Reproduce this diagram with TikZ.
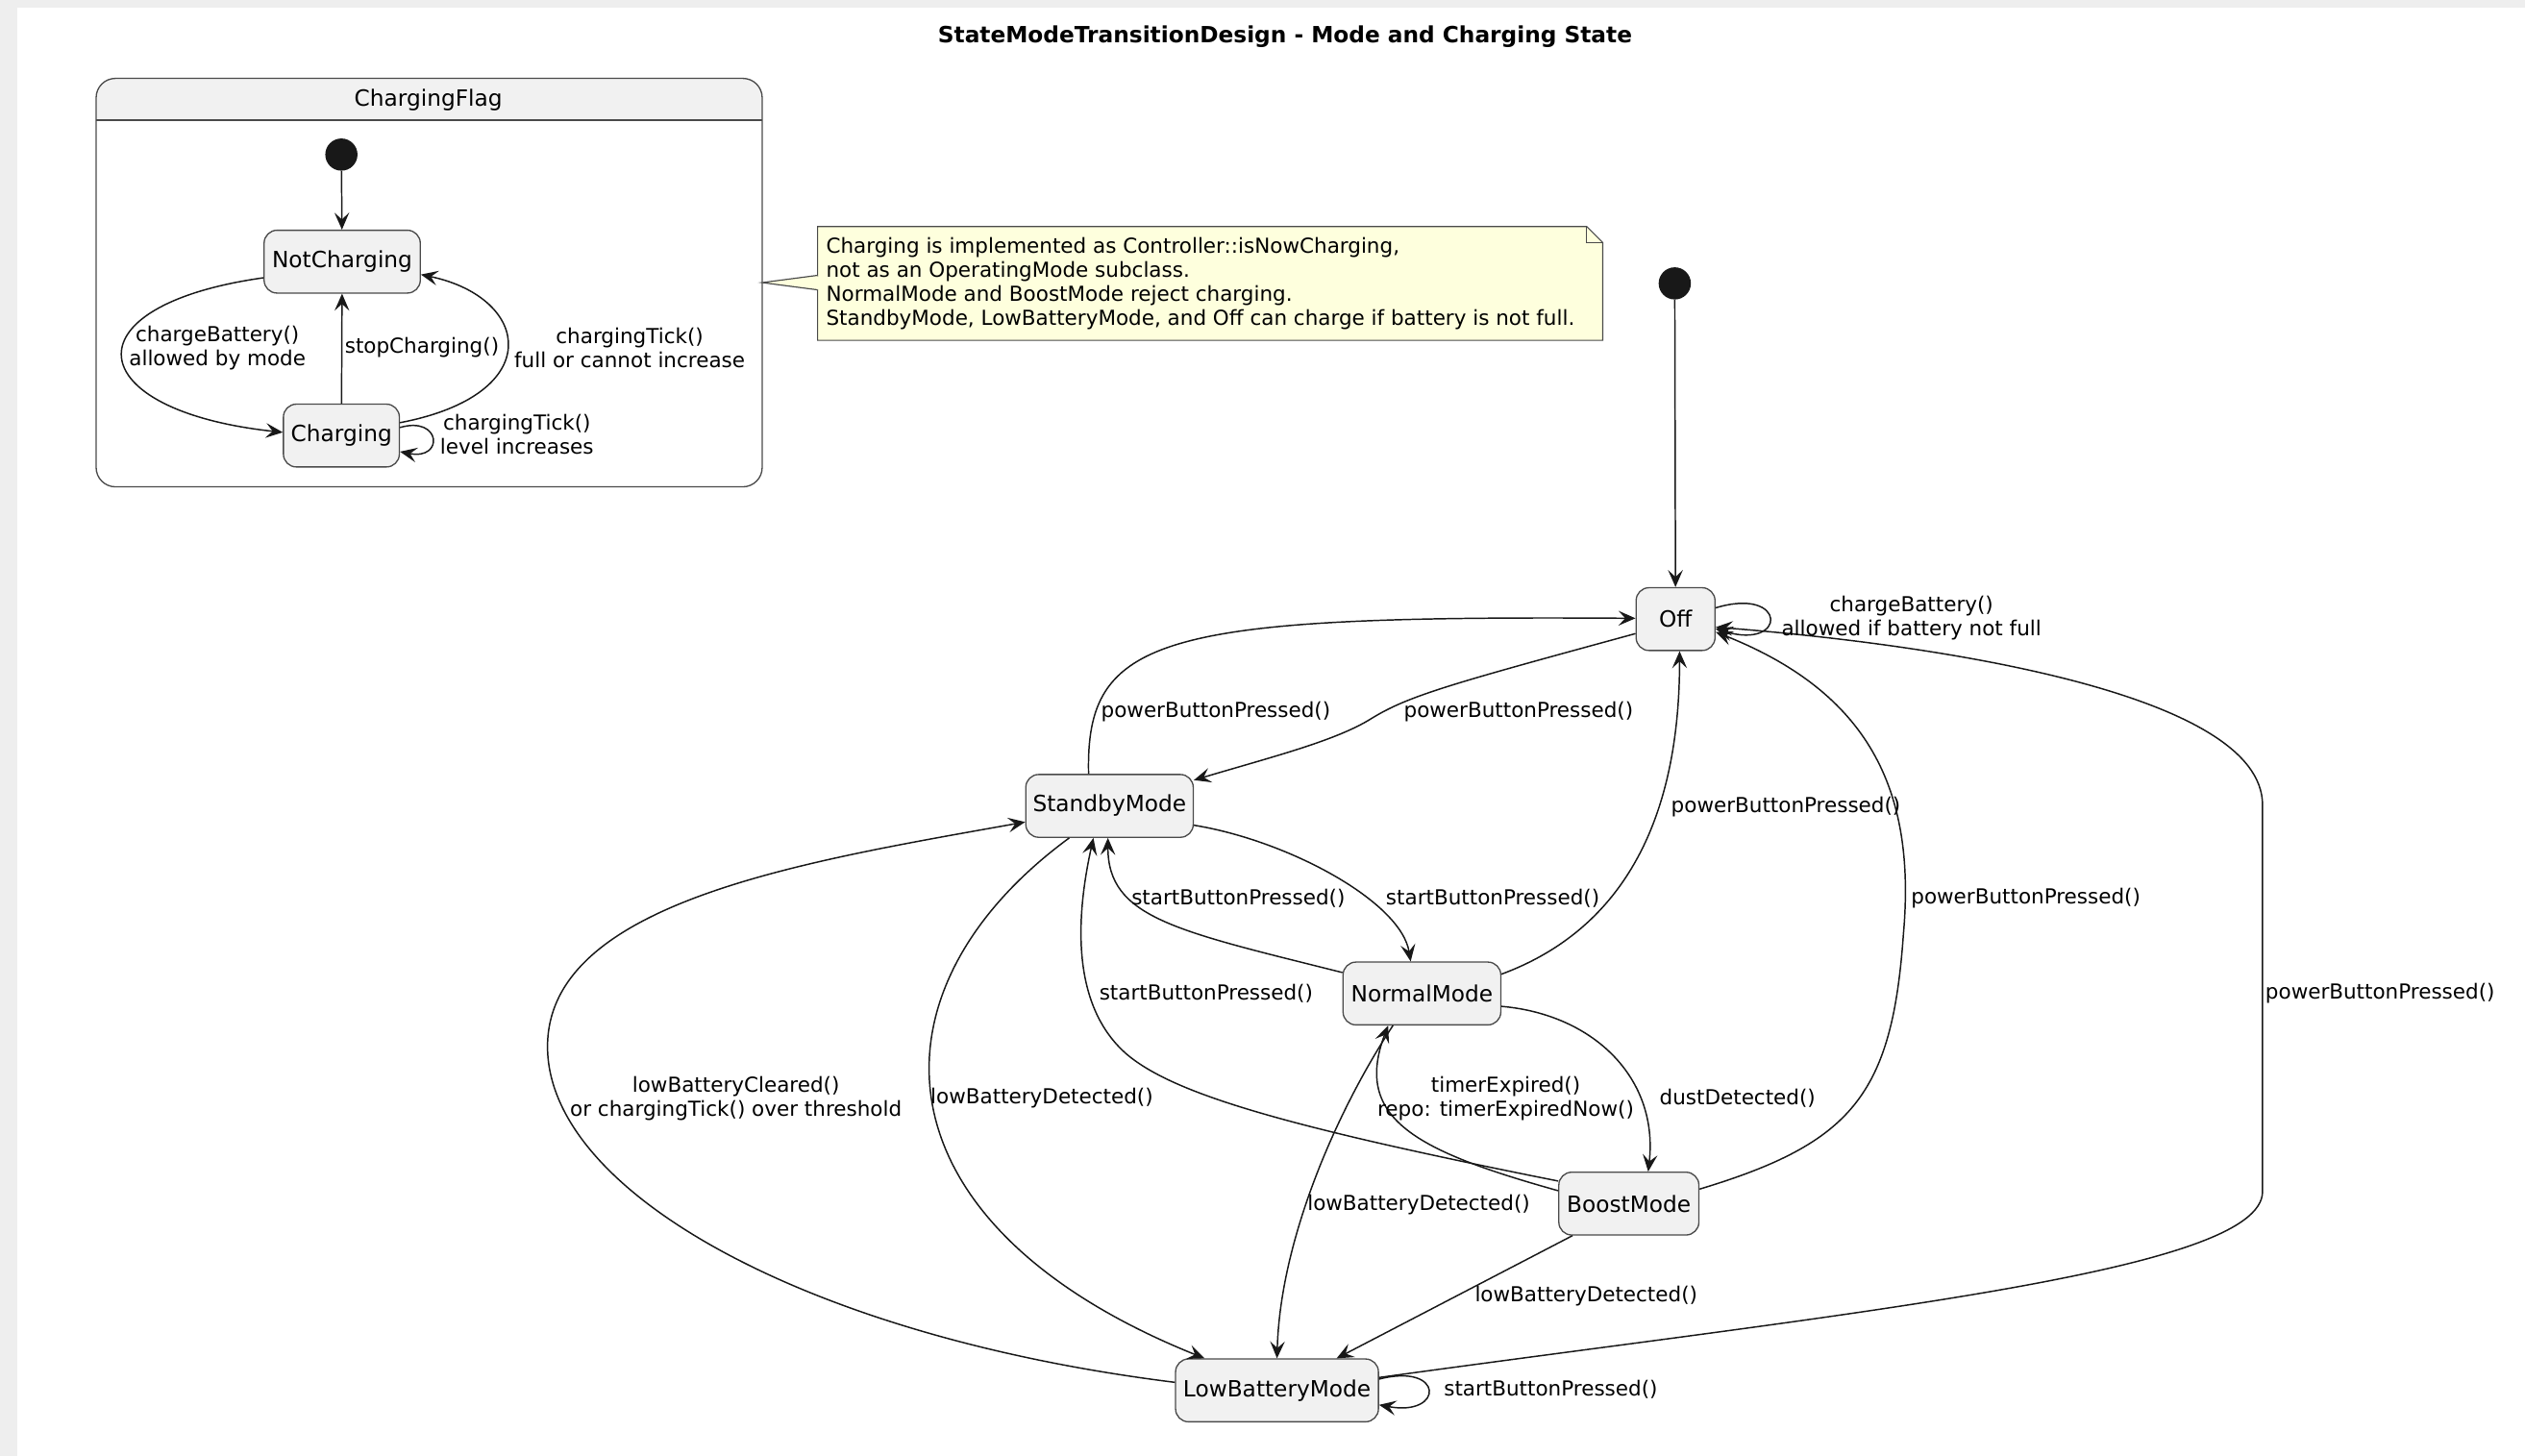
\documentclass[tikz,border=0pt]{standalone}
\usepackage{fontspec}
\setmainfont{DejaVu Sans}
\usetikzlibrary{arrows.meta,calc}
\definecolor{linec}{HTML}{181818}
\definecolor{boxc}{HTML}{4A4A4A}
\definecolor{statefill}{HTML}{F1F1F1}
\definecolor{notefill}{HTML}{FEFFDD}
\definecolor{bggray}{HTML}{EEEEEE}
\newcommand\lblfont{\fontsize{7.3pt}{8.5pt}\selectfont}
\newcommand\stfont{\fontsize{7.9pt}{9pt}\selectfont}
\newcommand\ttlfont{\fontsize{7.9pt}{9pt}\selectfont\bfseries}
\begin{document}
\begin{tikzpicture}[x=0.02cm,y=-0.02cm,
  every node/.style={font=\lblfont, inner sep=0pt},
  st/.style={rectangle, rounded corners=0.16cm, draw=boxc, fill=statefill, line width=0.45pt, minimum height=0.78cm, font=\stfont},
  tr/.style={draw=linec, line width=0.5pt, -{Stealth[length=6pt,width=5.2pt,inset=2.4pt]}},
  lbl/.style={align=center, text=black},
  initdot/.style={circle, fill=linec, minimum size=0.4cm, inner sep=0pt}]
\useasboundingbox (0,0) rectangle (1568,904);
\fill[bggray] (0,0) rectangle (1568,904);
\fill[white] (11,5) rectangle (1568,904);

\node[font=\ttlfont] (title) at (798,22.5) {StateModeTransitionDesign - Mode and Charging State};

% composite
\path (266.5,175.5) node[minimum width=8.26cm, minimum height=5.06cm, fill=white] (CF) {};
\begin{scope}
\clip[rounded corners=0.24cm] (CF.north west) rectangle (CF.south east);
\fill[statefill] (CF.north west) rectangle ($(CF.north east)+(0,26)$);
\end{scope}
\draw[boxc, line width=0.45pt, rounded corners=0.24cm] (CF.north west) rectangle (CF.south east);
\draw[boxc, line width=0.45pt] ($(CF.north west)+(0,26)$) -- ($(CF.north east)+(0,26)$);
\node[font=\stfont] (CFt) at (266,62) {ChargingFlag};

\node[initdot] (i1) at (212,96) {};
\node[st, minimum width=1.94cm] (NC) at (212.5,162.5) {NotCharging};
\node[st, minimum width=1.44cm] (Ch) at (212,270.5) {Charging};

\draw[tr] (i1) -- (NC);
\draw[tr] ($(NC.west)+(0,10)$) .. controls (40,190) and (50,255) .. ($(Ch.west)+(0,-2)$);
\draw[tr] (Ch) -- (NC);
\draw[tr] ($(Ch.east)+(0,-8)$) .. controls (340,245) and (330,185) .. ($(NC.east)+(0,8)$);
\draw[tr] ($(Ch.east)+(0,-5)$) .. controls (274,258) and (276,286) .. ($(Ch.east)+(0,10)$);

\node[lbl] (l1) at (135,216) {chargeBattery()\\allowed by mode};
\node[lbl] (l2) at (262,216) {stopCharging()};
\node[lbl] (l3) at (391,216) {chargingTick()\\full or cannot increase};
\node[lbl] (l4) at (321,270) {chargingTick()\\level increases};

% note
\node[minimum width=9.74cm, minimum height=1.4cm] (note) at (751.5,176) {};
\filldraw[fill=notefill, draw=boxc, line width=0.4pt] (note.north west) -- ($(note.north east)+(-10,0)$) -- ($(note.north east)+(0,10)$) -- (note.south east) -- (note.south west) -- cycle;
\draw[boxc, line width=0.4pt] ($(note.north east)+(-10,0)$) -- ($(note.north east)+(-10,10)$) -- ($(note.north east)+(0,10)$);
\filldraw[fill=notefill, draw=boxc, line width=0.4pt] ($(note.west)+(0,-5)$) -- (CF.east) -- ($(note.west)+(0,4)$);
\fill[notefill] ($(note.west)+(-0.5,-4.4)$) rectangle ($(note.west)+(0.6,3.4)$);
\node[align=left, anchor=west] (notetxt) at ($(note.west)+(5,0)$) {Charging is implemented as Controller::isNowCharging,\\not as an OperatingMode subclass.\\NormalMode and BoostMode reject charging.\\StandbyMode, LowBatteryMode, and Off can charge if battery is not full.};

% main states
\node[initdot] (i2) at (1040,176) {};
\node[st, minimum width=0.98cm] (Off) at (1040.5,384.5) {Off};
\node[st, minimum width=2.08cm] (SB) at (689,500.5) {StandbyMode};
\node[st, minimum width=1.96cm] (NM) at (883,617) {NormalMode};
\node[st, minimum width=1.74cm] (BM) at (1011.5,747.5) {BoostMode};
\node[st, minimum width=2.52cm] (LBM) at (793,863.5) {LowBatteryMode};

\draw[tr] (i2) -- (Off);
\draw[tr] ($(Off.east)+(0,-7)$) .. controls (1110,364) and (1110,404) .. ($(Off.east)+(0,6)$);
\draw[tr] ($(SB.north)+(-13,0)$) .. controls (674,395) and (720,382) .. ($(Off.west)+(0,-0.5)$);
\draw[tr] ($(Off.west)+(0,9)$) .. controls (900,425) and (875,432) .. (852,446) .. controls (830,460) and (790,470) .. ($(SB.east)+(0,-16)$);
\draw[tr] ($(SB.east)+(0,12)$) .. controls (800,522) and (870,560) .. ($(NM.north)+(-7,0)$);
\draw[tr] ($(NM.west)+(0,-13)$) .. controls (730,578) and (688,570) .. ($(SB.south)+(-1,0)$);
\draw[tr] ($(BM.west)+(0,-14)$) .. controls (800,700) and (730,680) .. (700,655) .. controls (665,625) and (668,570) .. ($(SB.south)+(-10,0)$);
\draw[tr] ($(NM.east)+(0,-12)$) .. controls (1000,580) and (1043,520) .. ($(Off.south)+(2.5,0)$);
\draw[tr] ($(BM.east)+(0,-9)$) .. controls (1150,710) and (1175,680) .. (1182,580) .. controls (1190,490) and (1160,430) .. ($(Off.east)+(0,8)$);
\draw[tr] ($(LBM.east)+(0,-8)$) .. controls (1150,815) and (1405,790) .. (1405,740) -- (1405,500) .. controls (1405,430) and (1200,400) .. ($(Off.east)+(0,5)$);
\draw[tr] ($(NM.east)+(0,8)$) .. controls (990,630) and (1030,670) .. ($(BM.north)+(12,0)$);
\draw[tr] ($(BM.west)+(0,-8)$) .. controls (880,715) and (840,695) .. ($(NM.south)+(-21,0)$);
\draw[tr] ($(SB.south)+(-25,0)$) .. controls (535,615) and (540,760) .. ($(LBM.north)+(-45,0)$);
\draw[tr] ($(NM.south)+(-18,0)$) .. controls (830,690) and (795,770) .. (LBM.north);
\draw[tr] ($(BM.south)+(-35,0)$) -- ($(LBM.north)+(37,0)$);
\draw[tr] ($(LBM.east)+(0,-7)$) .. controls (897,846) and (897,880) .. ($(LBM.east)+(0,9)$);
\draw[tr] ($(LBM.west)+(0,-5)$) .. controls (500,830) and (340,740) .. (340,650) .. controls (340,560) and (500,535) .. ($(SB.west)+(0,10)$);

\node[lbl] (m1) at (1187,384) {chargeBattery()\\allowed if battery not full};
\node[lbl] (m2) at (755,442) {powerButtonPressed()};
\node[lbl] (m3) at (943,442) {powerButtonPressed()};
\node[lbl] (m4) at (1109,501) {powerButtonPressed()};
\node[lbl] (m5) at (1258,558) {powerButtonPressed()};
\node[lbl] (m6) at (1478,617) {powerButtonPressed()};
\node[lbl] (m7) at (769,558) {startButtonPressed()};
\node[lbl] (m8) at (927,558) {startButtonPressed()};
\node[lbl] (m9) at (749,617) {startButtonPressed()};
\node[lbl] (m10) at (963,863) {startButtonPressed()};
\node[lbl] (m11) at (457,682) {lowBatteryCleared()\\or chargingTick() over threshold};
\node[lbl] (m12) at (647,682) {lowBatteryDetected()};
\node[lbl] (m13) at (881,748) {lowBatteryDetected()};
\node[lbl] (m14) at (985,805) {lowBatteryDetected()};
\node[lbl] (m15) at (935,682) {timerExpired()\\repo: timerExpiredNow()};
\node[lbl] (m16) at (1079,682) {dustDetected()};
\end{tikzpicture}
\end{document}
